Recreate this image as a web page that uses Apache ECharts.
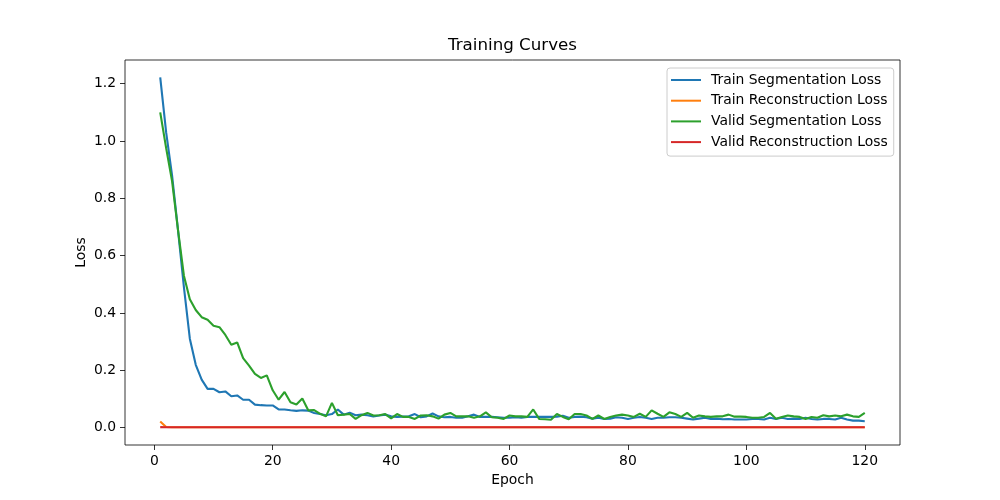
<!DOCTYPE html>
<html>
<head>
<meta charset="utf-8">
<script src="https://cdn.jsdelivr.net/npm/echarts@6.0.0/dist/echarts.min.js"></script>
<style>
html,body{margin:0;padding:0;background:#fff;}
#chart{width:1000px;height:500px;}
</style>
</head>
<body>
<div id="chart"></div>
<script>
// loss values per epoch
var trainSeg = [
    1.222,1.03,0.88,0.69,0.49,0.31,0.219,0.167,0.135,0.135,
    0.123,0.126,0.109,0.112,0.097,0.097,0.080,0.078,0.077,0.077,
    0.063,0.063,0.060,0.058,0.060,0.059,0.051,0.047,0.043,0.047,
    0.063,0.045,0.052,0.043,0.045,0.043,0.039,0.042,0.045,0.039,
    0.037,0.038,0.039,0.047,0.036,0.039,0.049,0.039,0.036,0.037,
    0.034,0.034,0.039,0.045,0.037,0.037,0.037,0.036,0.034,0.034,
    0.036,0.034,0.037,0.037,0.037,0.037,0.037,0.038,0.041,0.034,
    0.037,0.038,0.036,0.031,0.034,0.030,0.031,0.036,0.034,0.030,
    0.034,0.037,0.034,0.030,0.034,0.034,0.036,0.036,0.034,0.031,
    0.028,0.031,0.034,0.030,0.031,0.029,0.030,0.028,0.028,0.028,
    0.030,0.030,0.028,0.034,0.030,0.034,0.030,0.031,0.030,0.034,
    0.030,0.028,0.030,0.030,0.028,0.034,0.028,0.024,0.024,0.022
];
var trainRecon = [
    0.021,0.002,0.001,0.001,0.001,0.001,0.001,0.001,0.001,0.001,
    0.001,0.001,0.001,0.001,0.001,0.001,0.001,0.001,0.001,0.001,
    0.001,0.001,0.001,0.001,0.001,0.001,0.001,0.001,0.001,0.001,
    0.001,0.001,0.001,0.001,0.001,0.001,0.001,0.001,0.001,0.001,
    0.001,0.001,0.001,0.001,0.001,0.001,0.001,0.001,0.001,0.001,
    0.001,0.001,0.001,0.001,0.001,0.001,0.001,0.001,0.001,0.001,
    0.001,0.001,0.001,0.001,0.001,0.001,0.001,0.001,0.001,0.001,
    0.001,0.001,0.001,0.001,0.001,0.001,0.001,0.001,0.001,0.001,
    0.001,0.001,0.001,0.001,0.001,0.001,0.001,0.001,0.001,0.001,
    0.001,0.001,0.001,0.001,0.001,0.001,0.001,0.001,0.001,0.001,
    0.001,0.001,0.001,0.001,0.001,0.001,0.001,0.001,0.001,0.001,
    0.001,0.001,0.001,0.001,0.001,0.001,0.001,0.001,0.001,0.001
];
var validSeg = [
    1.10,0.975,0.86,0.69,0.53,0.448,0.41,0.385,0.376,0.355,
    0.350,0.323,0.289,0.297,0.242,0.216,0.187,0.173,0.182,0.130,
    0.097,0.124,0.088,0.080,0.101,0.060,0.061,0.048,0.039,0.086,
    0.043,0.045,0.047,0.030,0.043,0.051,0.042,0.043,0.047,0.032,
    0.047,0.037,0.037,0.030,0.042,0.043,0.039,0.031,0.045,0.051,
    0.039,0.039,0.039,0.034,0.039,0.053,0.036,0.034,0.030,0.042,
    0.039,0.039,0.037,0.063,0.030,0.029,0.027,0.047,0.037,0.029,
    0.047,0.047,0.042,0.030,0.042,0.030,0.037,0.042,0.045,0.042,
    0.037,0.048,0.037,0.060,0.048,0.037,0.053,0.047,0.037,0.051,
    0.034,0.042,0.039,0.037,0.039,0.039,0.045,0.038,0.038,0.037,
    0.034,0.034,0.037,0.051,0.031,0.037,0.042,0.039,0.037,0.030,
    0.037,0.034,0.043,0.039,0.042,0.039,0.045,0.039,0.037,0.051
];
var validRecon = [
    0.0015,0.001,0.001,0.001,0.001,0.001,0.001,0.001,0.001,0.001,
    0.001,0.001,0.001,0.001,0.001,0.001,0.001,0.001,0.001,0.001,
    0.001,0.001,0.001,0.001,0.001,0.001,0.001,0.001,0.001,0.001,
    0.001,0.001,0.001,0.001,0.001,0.001,0.001,0.001,0.001,0.001,
    0.001,0.001,0.001,0.001,0.001,0.001,0.001,0.001,0.001,0.001,
    0.001,0.001,0.001,0.001,0.001,0.001,0.001,0.001,0.001,0.001,
    0.001,0.001,0.001,0.001,0.001,0.001,0.001,0.001,0.001,0.001,
    0.001,0.001,0.001,0.001,0.001,0.001,0.001,0.001,0.001,0.001,
    0.001,0.001,0.001,0.001,0.001,0.001,0.001,0.001,0.001,0.001,
    0.001,0.001,0.001,0.001,0.001,0.001,0.001,0.001,0.001,0.001,
    0.001,0.001,0.001,0.001,0.001,0.001,0.001,0.001,0.001,0.001,
    0.001,0.001,0.001,0.001,0.001,0.001,0.001,0.001,0.001,0.001
];
var seriesNames = ['Train Segmentation Loss','Train Reconstruction Loss','Valid Segmentation Loss','Valid Reconstruction Loss'];
var seriesColors = ['#1f77b4','#ff7f0e','#2ca02c','#d62728'];
var xTicks = [0,20,40,60,80,100,120];
var yTicks = [0,0.2,0.4,0.6,0.8,1.0,1.2];

var FONT = 'DejaVu Sans';

// epoch numbers start at 1
function toPoints(values){
    var pts = [];
    for (var i = 0; i < values.length; i++) {
        pts.push([i + 1, values[i]]);
    }
    return pts;
}

function makeSeries(){
    var data = [trainSeg, trainRecon, validSeg, validRecon];
    var list = [];
    for (var i = 0; i < data.length; i++) {
        list.push({
            name: seriesNames[i],
            type: 'line',
            data: toPoints(data[i]),
            showSymbol: false,
            symbol: 'none',
            color: seriesColors[i],
            lineStyle: {color: seriesColors[i], width: 2.1},
            z: 2 + i
        });
    }
    return list;
}

var chart = echarts.init(document.getElementById('chart'));
chart.setOption({
    animation: false,
    backgroundColor: '#fff',
    grid: {
        left: 125, top: 60, width: 775, height: 385,
        show: true, borderColor: '#000', borderWidth: 0.8, backgroundColor: 'transparent'
    },
    xAxis: {
        type: 'value', min: -4.95, max: 125.95,
        axisLine: {show: false, onZero: false},
        axisTick: {show: true, customValues: xTicks, length: 5, lineStyle: {color: '#000', width: 0.8}},
        axisLabel: {customValues: xTicks, color: '#000', fontFamily: FONT, fontSize: 13.9, margin: 9},
        splitLine: {show: false}
    },
    yAxis: {
        type: 'value', min: -0.061, max: 1.2826,
        axisLine: {show: false, onZero: false},
        axisTick: {show: true, customValues: yTicks, length: 5, lineStyle: {color: '#000', width: 0.8}},
        axisLabel: {
            customValues: yTicks, color: '#000', fontFamily: FONT, fontSize: 13.9, margin: 9,
            formatter: function(v){ return v.toFixed(1); }
        },
        splitLine: {show: false}
    },
    legend: {
        orient: 'vertical', left: 667, top: 68,
        data: seriesNames,
        icon: 'rect', itemWidth: 30, itemHeight: 2, itemGap: 6.7,
        padding: [5, 6, 7, 4],
        backgroundColor: 'rgba(255,255,255,0.8)', borderColor: '#cccccc', borderWidth: 1, borderRadius: 3,
        textStyle: {fontFamily: FONT, fontSize: 13.9, color: '#000', padding: [0, 0, 0, 5]}
    },
    graphic: [
        {type: 'text', x: 512.5, y: 46, style: {text: 'Training Curves', fill: '#000', font: '16.7px "DejaVu Sans"', align: 'center', verticalAlign: 'middle'}},
        {type: 'text', x: 512.5, y: 480, style: {text: 'Epoch', fill: '#000', font: '13.9px "DejaVu Sans"', align: 'center', verticalAlign: 'middle'}},
        {type: 'text', x: 81, y: 252.5, rotation: Math.PI / 2, style: {text: 'Loss', fill: '#000', font: '13.9px "DejaVu Sans"', align: 'center', verticalAlign: 'middle'}}
    ],
    series: makeSeries()
});
</script>
</body>
</html>
